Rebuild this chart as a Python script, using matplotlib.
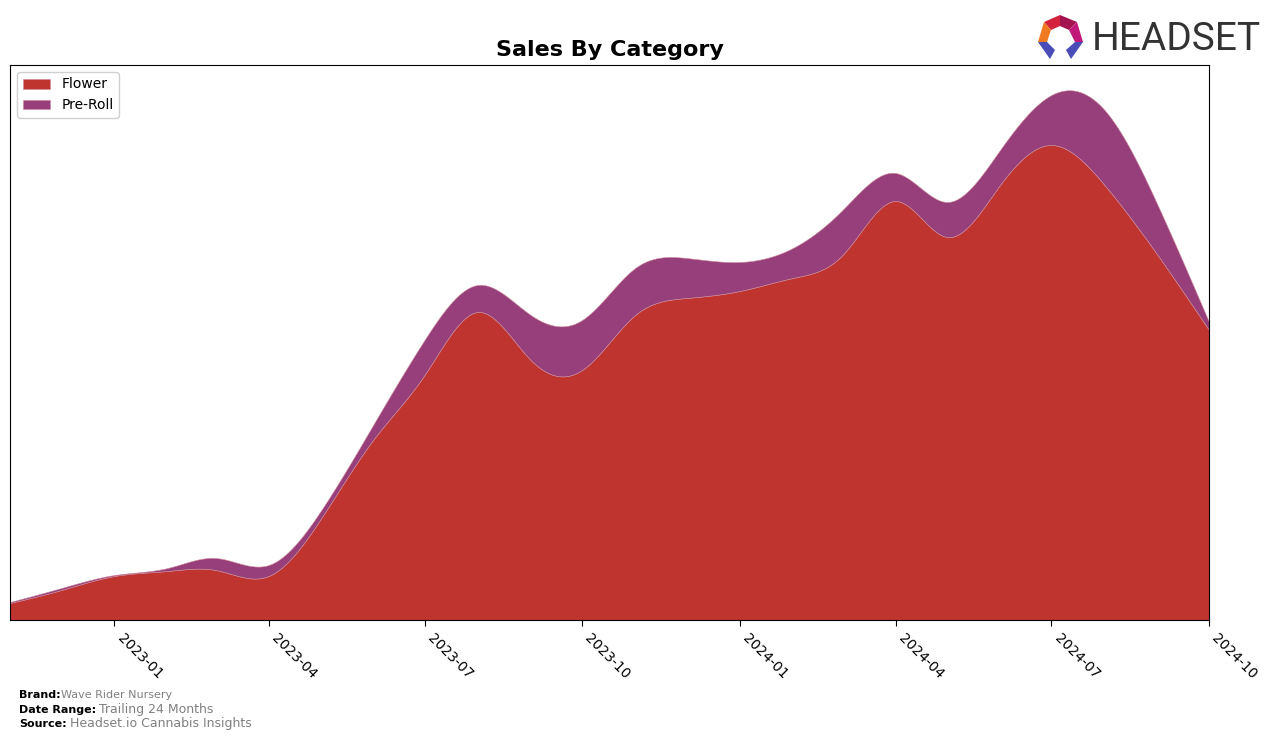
import numpy as np
import pandas as pd
import matplotlib
matplotlib.use("Agg")
import matplotlib.pyplot as plt
import matplotlib.dates as mdates
from matplotlib.patches import Polygon

months = pd.date_range("2022-11-01", "2024-10-01", freq="MS")
flower = [17, 30, 44, 49, 50, 44, 100, 180, 245, 308, 260, 250,
          305, 322, 329, 342, 365, 419, 383, 435, 475, 435, 365, 290]
preroll = [1, 2, 1, 3, 12, 11, 8, 15, 35, 27, 45, 50,
           47, 40, 29, 30, 45, 28, 35, 35, 50, 75, 50, 8]
tick_labels = ["2023-01", "2023-04", "2023-07", "2023-10",
               "2024-01", "2024-04", "2024-07", "2024-10"]
colors = ["#C0342F", "#963F7A"]
series_names = ["Flower", "Pre-Roll"]


def natural_spline(x, y, xs):
    x = np.asarray(x, float); y = np.asarray(y, float)
    n = len(x)
    h = np.diff(x)
    A = np.zeros((n, n)); b = np.zeros(n)
    A[0, 0] = 1; A[-1, -1] = 1
    for i in range(1, n - 1):
        A[i, i - 1] = h[i - 1]
        A[i, i] = 2 * (h[i - 1] + h[i])
        A[i, i + 1] = h[i]
        b[i] = 3 * ((y[i + 1] - y[i]) / h[i] - (y[i] - y[i - 1]) / h[i - 1])
    c = np.linalg.solve(A, b)
    bb = np.zeros(n - 1); d = np.zeros(n - 1)
    for i in range(n - 1):
        bb[i] = (y[i + 1] - y[i]) / h[i] - h[i] * (2 * c[i] + c[i + 1]) / 3
        d[i] = (c[i + 1] - c[i]) / (3 * h[i])
    idx = np.clip(np.searchsorted(x, xs) - 1, 0, n - 2)
    dx = xs - x[idx]
    return y[idx] + bb[idx] * dx + c[idx] * dx ** 2 + d[idx] * dx ** 3


xnum = mdates.date2num(months.to_pydatetime())
xs = np.linspace(xnum[0], xnum[-1], 600)
f_s = np.clip(natural_spline(xnum, flower, xs), 0, None)
p_s = np.clip(natural_spline(xnum, preroll, xs), 0, None)

fig = plt.figure(figsize=(12.76, 7.41), dpi=100)
W, H = 1276, 741
ax = fig.add_axes([10 / W, 1 - 620 / H, (1209 - 10) / W, (620 - 65) / H])
ax.stackplot(xs, f_s, p_s, colors=colors, labels=series_names,
             edgecolor="#d08a9a", linewidth=0.4)
ax.set_xlim(xnum[0], xnum[-1])
ax.set_ylim(0, 555)
ax.set_yticks([])
ticks = mdates.date2num(pd.to_datetime([t + "-01" for t in tick_labels]).to_pydatetime())
ax.set_xticks(ticks)
ax.set_xticklabels(tick_labels, rotation=-45, ha="left", fontsize=10)
ax.tick_params(axis="x", length=4, pad=4)
leg = ax.legend(loc="upper left", fontsize=10, framealpha=1, edgecolor="#d0d0d0",
                handlelength=2.0, borderaxespad=0.5)

fig.text(609.5 / W, 1 - 50 / H, "Sales By Category", ha="center", va="center",
         fontsize=16, fontweight="bold")

# footer
fs = 8
fig.text(19 / W, 1 - 695 / H, "Brand:", fontsize=fs, fontweight="bold", va="center")
fig.text(61 / W, 1 - 695 / H, "Wave Rider Nursery", fontsize=fs, color="gray", va="center")
fig.text(19 / W, 1 - 710 / H, "Date Range:", fontsize=fs, fontweight="bold", va="center")
fig.text(99 / W, 1 - 710 / H, "Trailing 24 Months", fontsize=9, color="gray", va="center")
fig.text(19 / W, 1 - 724 / H, "Source:", fontsize=fs, fontweight="bold", va="center")
fig.text(70 / W, 1 - 724 / H, "Headset.io Cannabis Insights", fontsize=9, color="gray", va="center")

# logo
def P(pts, c):
    fig.patches.append(Polygon([(x / W, 1 - y / H) for x, y in pts], closed=True,
                               transform=fig.transFigure, facecolor=c, edgecolor="none"))
P([(1044, 22), (1060, 15), (1060, 26), (1051, 30)], "#d4213c")
P([(1060, 15), (1077, 22), (1069, 30), (1060, 26)], "#a3134f")
P([(1077, 22), (1083, 42), (1075, 42), (1069, 30)], "#c2187a")
P([(1044, 22), (1051, 30), (1047, 42), (1038, 42)], "#f07a22")
P([(1038, 42), (1047, 42), (1055, 50), (1050, 59)], "#4a4db8")
P([(1083, 42), (1075, 42), (1066, 50), (1071, 59)], "#4a4db8")
fig.text(1092 / W, 1 - 39 / H, "HEADSET", fontsize=28, color="#333333", va="center",
         ha="left", family=["Roboto", "DejaVu Sans"])

fig.savefig("out.png", dpi=100)
